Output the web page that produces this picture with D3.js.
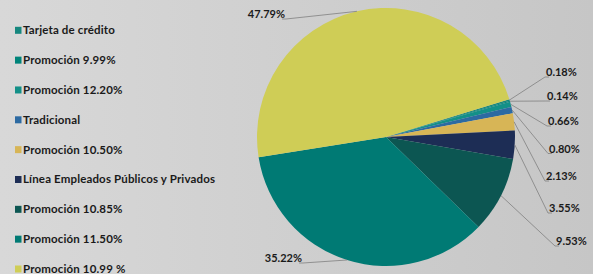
<!DOCTYPE html>
<html><head><meta charset="utf-8">
<script src="https://cdn.jsdelivr.net/npm/d3@7"></script>
<style>html,body{margin:0;padding:0;overflow:hidden}</style>
</head><body><svg id="c" width="593" height="274"></svg>
<script>
const categories = ["Tarjeta de crédito","Promoción 9.99%","Promoción 12.20%","Tradicional","Promoción 10.50%","Línea Empleados Públicos y Privados","Promoción 10.85%","Promoción 11.50%","Promoción 10.99 %"];
const values = [0.18,0.14,0.66,0.80,2.13,3.55,9.53,35.22,47.79];
const valueLabels = ["0.18%","0.14%","0.66%","0.80%","2.13%","3.55%","9.53%","35.22%","47.79%"];
const colors = ["#16877e","#00847a","#139088","#2c6aa2","#d7b556","#1d2d55","#0c5652","#007a74","#cfcd56"];

// layout: label anchor points (x, baseline y, anchor side)
const labelPos = [[546,76,"start"],[547,100,"start"],[548,125,"start"],[549,152.5,"start"],[546,180,"start"],[549,212,"start"],[556,245,"start"],[302,262,"end"],[285,18,"end"]];

const W=593,H=274, cx=386, cy=137, R=129;
const svg=d3.select("#c");
const defs=svg.append("defs");
const g=defs.append("linearGradient").attr("id","bg").attr("x1","0").attr("x2","1").attr("y1","0").attr("y2","0");
g.append("stop").attr("offset","0").attr("stop-color","#d8d8d8");
g.append("stop").attr("offset","1").attr("stop-color","#c6c6c6");
svg.append("rect").attr("width",W).attr("height",H).attr("fill","url(#bg)");

const font="Lato, 'Open Sans', sans-serif";
const start=73*Math.PI/180;
const pie=d3.pie().sort(null).startAngle(start).endAngle(start+2*Math.PI);
const arcs=pie(values);
const arc=d3.arc().innerRadius(0).outerRadius(R);
const pg=svg.append("g").attr("transform",`translate(${cx},${cy})`);
pg.selectAll("path").data(arcs).enter().append("path")
 .attr("d",arc).attr("fill",(d,i)=>colors[i]).attr("stroke","none");

// leader lines & labels
const lg=svg.append("g");
arcs.forEach((d,i)=>{
  const a=(d.startAngle+d.endAngle)/2;
  const x0=cx+R*Math.sin(a), y0=cy-R*Math.cos(a);
  const [lx,ly,anc]=labelPos[i];
  const ex = anc==="start"? lx-1 : lx+1;
  const ey = ly+1;
  const hx = anc==="start"? ex+4 : ex-4;
  lg.append("polyline").attr("points",`${x0},${y0} ${ex},${ey} ${hx},${ey}`)
    .attr("fill","none").attr("stroke","#808080").attr("stroke-width",0.8);
  lg.append("text").attr("x",lx).attr("y",ly).attr("text-anchor",anc)
    .attr("font-family",font).attr("font-weight","bold").attr("font-size","11px")
    .attr("fill","#1a1a1a").text(valueLabels[i]);
});

// legend
const leg=svg.append("g");
const y=d3.scalePoint().domain(categories).range([30.3,269]);
categories.forEach((c,i)=>{
  leg.append("rect").attr("x",15).attr("y",y(c)-3.5).attr("width",6.5).attr("height",7).attr("fill",colors[i]);
  leg.append("text").attr("x",23).attr("y",y(c)+4).attr("font-family",font).attr("font-weight","bold")
   .attr("font-size","11.5px").attr("letter-spacing","0.15px").attr("fill","#1a1a1a").text(c);
});
</script></body></html>
